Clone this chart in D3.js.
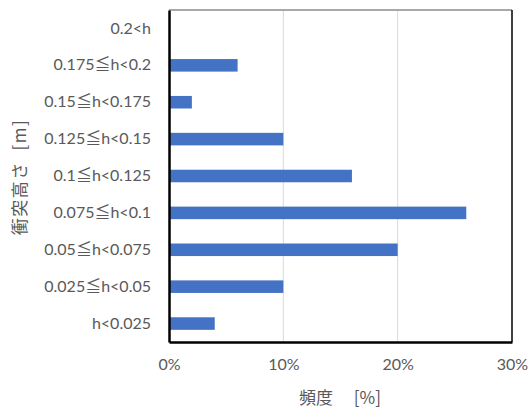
<!DOCTYPE html>
<html><head><meta charset="utf-8">
<script src="https://cdn.jsdelivr.net/npm/d3@7"></script>
<style>body{margin:0;background:#fff}svg{display:block}</style>
</head><body>
<svg id="c" width="528" height="415"></svg>
<script>
const categories = ["0.2<h","0.175≦h<0.2","0.15≦h<0.175","0.125≦h<0.15","0.1≦h<0.125","0.075≦h<0.1","0.05≦h<0.075","0.025≦h<0.05","h<0.025"];
const values = [0, 6, 2, 10, 16, 26, 20, 10, 4];
const xTicks = [0, 10, 20, 30];
const xTitle = "頻度　 [%]";
const yTitle = "衝突高さ  [m]";

const svg = d3.select("#c");
const font = "Lato, 'Noto Sans CJK JP', sans-serif";
const cjk = "'Noto Sans CJK JP', sans-serif";
const L = 169, R = 512, T = 10, B = 342;
const x = d3.scaleLinear().domain([0, 30]).range([L, R]);
const y = d3.scaleBand().domain(categories).range([T, B]).paddingInner(0.66).paddingOuter(0.33);

svg.append("g").selectAll("line").data(xTicks.slice(1, -1)).join("line")
  .attr("x1", d => x(d)).attr("x2", d => x(d)).attr("y1", T).attr("y2", B)
  .attr("stroke", "#d9d9d9").attr("stroke-width", 1);

svg.append("g").selectAll("rect").data(values).join("rect")
  .attr("x", x(0)).attr("y", (d, i) => y(categories[i]))
  .attr("width", d => x(d) - x(0)).attr("height", y.bandwidth())
  .attr("fill", "#4472C4");

svg.append("line").attr("x1", L).attr("x2", R).attr("y1", T).attr("y2", T).attr("stroke", "#8c8c8c").attr("stroke-width", 1.5);
svg.append("line").attr("x1", R).attr("x2", R).attr("y1", T).attr("y2", B).attr("stroke", "#000").attr("stroke-width", 1.5);

const xAxis = svg.append("g").attr("transform", `translate(0,${B})`)
  .call(d3.axisBottom(x).tickValues(xTicks).tickFormat(d => d + "%").tickSize(0).tickPadding(17));
xAxis.select(".domain").attr("stroke", "#000").attr("stroke-width", 2.5);
xAxis.selectAll("text").attr("font-family", font).attr("font-size", 16).attr("fill", "#595959");

const yAxis = svg.append("g").attr("transform", `translate(${L},0)`)
  .call(d3.axisLeft(y).tickSize(0).tickPadding(18));
yAxis.select(".domain").attr("stroke", "#000").attr("stroke-width", 2.5);
yAxis.selectAll("text").attr("font-family", font).attr("font-size", 16).attr("fill", "#595959");

svg.append("text").attr("x", 340).attr("y", 404).attr("text-anchor", "middle")
  .attr("font-family", cjk).attr("font-size", 17).attr("fill", "#595959").attr("xml:space", "preserve").text(xTitle);
svg.append("text").attr("transform", "translate(26,177) rotate(-90)").attr("text-anchor", "middle")
  .attr("font-family", cjk).attr("font-size", 17).attr("letter-spacing", 1.5).attr("xml:space", "preserve")
  .attr("fill", "#595959").text(yTitle);
</script>
</body></html>
